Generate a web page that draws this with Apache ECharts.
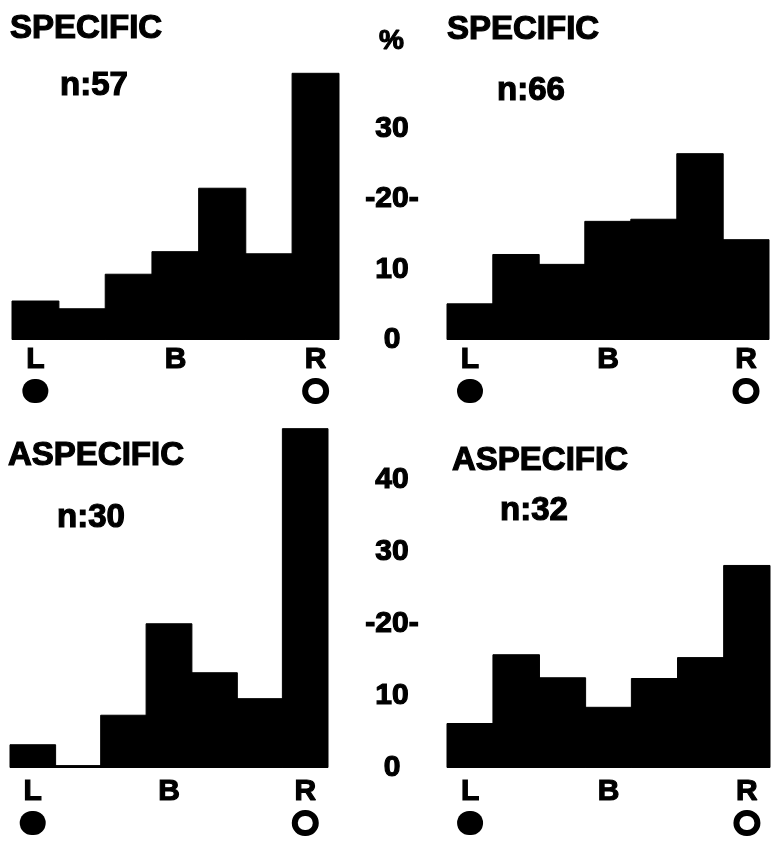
<!DOCTYPE html>
<html>
<head>
<meta charset="utf-8">
<script src="https://cdn.jsdelivr.net/npm/echarts@6/dist/echarts.min.js"></script>
<style>
  html, body { margin: 0; padding: 0; background: #fff; }
  #chart { width: 771px; height: 841px; }
</style>
</head>
<body>
<div id="chart"></div>
<script>
// ---- data ----
const categories = ['L', 'c2', 'c3', 'B', 'c5', 'c6', 'R'];
const specificLeft = [5.6, 4.5, 9.4, 12.6, 21.6, 12.3, 37.9];   // n:57
const specificRight = [5.2, 12.2, 10.8, 16.9, 17.2, 26.5, 14.3]; // n:66
const aspecificLeft = [3.3, 0.4, 7.4, 20.1, 13.3, 9.7, 47.2];   // n:30
const aspecificRight = [6.25, 15.8, 12.6, 8.5, 12.5, 15.4, 28.2]; // n:32
const titles = ['SPECIFIC', 'n:57', 'SPECIFIC', 'n:66', 'ASPECIFIC', 'n:30', 'ASPECIFIC', 'n:32'];
const topTicks = { max: 40, hidden: [40] };
const bottomTicks = { max: 50, hidden: [50] };

const FONT = '"Liberation Sans", Arial, Helvetica, sans-serif';
const HEAVY = { fontWeight: 'bold', fontFamily: FONT, color: '#000', textBorderColor: '#000', textBorderWidth: 1.2 };

function xLabel(v) {
  if (v === 'L') return '{t|L}\n{f| }';
  if (v === 'R') return '{t|R}\n{o| }';
  if (v === 'B') return '{t|B}';
  return '';
}
const xRich = {
  t: Object.assign({ fontSize: 30, lineHeight: 30 }, HEAVY),
  f: { width: 26, height: 24, backgroundColor: '#000', borderRadius: 12, lineHeight: 32 },
  o: { width: 15, height: 14, borderColor: '#000', borderWidth: 6, borderRadius: 10, backgroundColor: '#fff', lineHeight: 32 }
};

function yLabel(hidden) {
  return function (v) {
    if (hidden.indexOf(v) >= 0) return '';
    if (v === 20) return '-20-';
    return String(v);
  };
}

const grids = [
  { left: 12, width: 327, top: 58, height: 282 },
  { left: 447, width: 322, top: 58, height: 282 },
  { left: 10, width: 318, top: 408, height: 360 },
  { left: 447, width: 323, top: 408, height: 360 }
];

const xAxes = grids.map((g, i) => ({
  type: 'category', gridIndex: i, data: categories,
  axisLine: { show: false }, axisTick: { show: false },
  axisLabel: { interval: 0, margin: i < 2 ? 5 : 9, formatter: xLabel, rich: xRich, align: 'center', verticalAlign: 'top' }
}));

const yAxes = grids.map((g, i) => {
  const t = i < 2 ? topTicks : bottomTicks;
  const showLabels = (i === 1 || i === 3);
  return {
    type: 'value', gridIndex: i, min: 0, max: t.max, interval: 10,
    splitLine: { show: false }, axisLine: { show: false }, axisTick: { show: false },
    axisLabel: Object.assign({
      show: showLabels, margin: 55, align: 'center',
      formatter: yLabel(t.hidden), fontSize: 30
    }, HEAVY)
  };
});

const seriesData = [specificLeft, specificRight, aspecificLeft, aspecificRight];
const series = seriesData.map((d, i) => ({
  type: 'bar', xAxisIndex: i, yAxisIndex: i, data: d,
  barWidth: '103%',
  itemStyle: { color: '#000', borderColor: '#000', borderWidth: 1 },
  silent: true, animation: false
}));

const titlePos = [
  [10, 12], [60, 69], [447, 13], [497, 74],
  [8, 439], [57, 501], [452, 444], [500, 494]
];
const titleOpts = titles.map((t, i) => ({
  text: t, left: titlePos[i][0], top: titlePos[i][1], padding: 0,
  textStyle: Object.assign({ fontSize: 33 }, HEAVY)
}));
titleOpts.push({
  text: '%', left: 379, top: 27, padding: 0,
  textStyle: Object.assign({ fontSize: 28 }, HEAVY)
});

const chart = echarts.init(document.getElementById('chart'), null, { renderer: 'canvas' });
chart.setOption({
  backgroundColor: '#fff',
  animation: false,
  title: titleOpts,
  grid: grids,
  xAxis: xAxes,
  yAxis: yAxes,
  series: series
});
</script>
</body>
</html>
